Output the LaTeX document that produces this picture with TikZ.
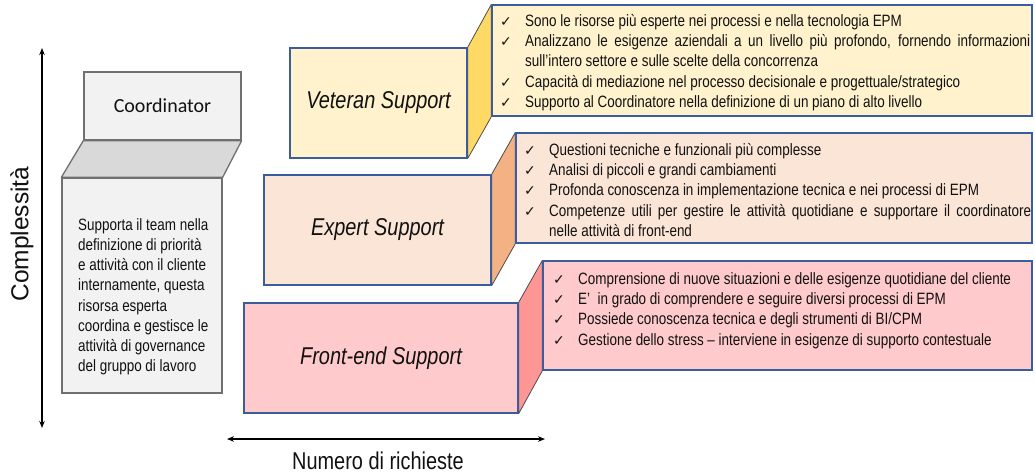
\documentclass[tikz,border=0pt]{standalone}
\usepackage{fontspec}
\setmainfont{Liberation Sans}
\newfontfamily\narrowfont[FakeStretch=0.82]{Liberation Sans}
\newfontfamily\calfont{Carlito}
\newfontfamily\symfont{DejaVu Sans}
\usetikzlibrary{arrows.meta}

\definecolor{vetF}{HTML}{FFF2CC}
\definecolor{vetS}{HTML}{FFD966}
\definecolor{expF}{HTML}{FBE5D6}
\definecolor{expS}{HTML}{F4B183}
\definecolor{feF}{HTML}{FFCACB}
\definecolor{feS}{HTML}{FF9696}
\definecolor{edgeblue}{HTML}{3A5D9E}
\definecolor{coordF}{HTML}{F2F2F2}
\definecolor{coordS}{HTML}{D9D9D9}
\definecolor{coordE}{HTML}{707070}
\definecolor{ink}{HTML}{111111}

% check-mark bullet with hanging indent
\newcommand{\tick}{\makebox[25pt][l]{\symfont\fontsize{14}{14}\selectfont ✓}}
\newcommand{\itm}[1]{\par\hangindent=25pt\hangafter=1\noindent\strut\tick #1\par}
\newcommand{\bodyfont}{\narrowfont\fontsize{16.4}{20.2}\selectfont
  \tolerance=9999\emergencystretch=0pt\hyphenpenalty=10000\exhyphenpenalty=10000}

\tikzset{
  front/.style={draw=edgeblue, line width=1.3pt, inner sep=0pt,
    font=\narrowfont\itshape\fontsize{24.3}{28}\selectfont, text=ink},
  infobox/.style={draw=edgeblue, line width=1.3pt, inner sep=0pt},
  infotext/.style={anchor=north west, inner sep=0pt, align=justify,
    font=\bodyfont, text=ink},
  sideface/.style={draw=black!70, line width=0.8pt, line join=round},
  coordbox/.style={draw=coordE, line width=1.3pt, fill=coordF, inner sep=0pt},
  axis/.style={line width=1.3pt, {Stealth[length=7pt,width=5.5pt]}-{Stealth[length=7pt,width=5.5pt]}},
}

\begin{document}
\begin{tikzpicture}[x=1pt, y=-1pt]
\useasboundingbox (0,0) rectangle (1035,475);

% ---- Coordinator block ----
\node[coordbox, minimum width=157pt, minimum height=68pt,
      font=\calfont\fontsize{20}{24}\selectfont, text=ink] (ctop) at (162.5,106) {Coordinator};
\node[coordbox, minimum width=160pt, minimum height=215pt] (cbody) at (142,285.5) {};
\filldraw[coordbox, fill=coordS, line join=round]
  (ctop.south west) -- (ctop.south east) -- (cbody.north east) -- (cbody.north west) -- cycle;
\node[anchor=north west, inner sep=0pt, align=left, font=\bodyfont, text=ink] (cdesc) at (78,216)
  {\strut Supporta il team nella\\ definizione di priorità\\ e attività con il cliente\\
   internamente, questa\\ risorsa esperta\\ coordina e gestisce le\\
   attività di governance\\ del gruppo di lavoro};

% ---- front faces ----
\node[front, fill=vetF, minimum width=177pt, minimum height=110pt] (vet) at (378.5,103) {Veteran Support};
\node[front, fill=expF, minimum width=227pt, minimum height=110pt] (exp) at (377.5,230) {Expert Support};
\node[front, fill=feF, minimum width=274pt, minimum height=110pt] (fe) at (381,358) {Front-end Support};

% ---- description panels ----
\node[infobox, fill=vetF, minimum width=540pt, minimum height=111pt] (vetbox) at (762,60.5) {};
\node[infobox, fill=expF, minimum width=516pt, minimum height=110pt] (expbox) at (774,188) {};
\node[infobox, fill=feF, minimum width=489pt, minimum height=109pt] (febox) at (787.5,315.5) {};

% ---- side faces joining fronts to panels ----
\filldraw[sideface, fill=vetS] (vet.north east) -- (vetbox.north west) -- (vetbox.south west) -- (vet.south east) -- cycle;
\filldraw[sideface, fill=expS] (exp.north east) -- (expbox.north west) -- (expbox.south west) -- (exp.south east) -- cycle;
\filldraw[sideface, fill=feS] (fe.north east) -- (febox.north west) -- (febox.south west) -- (fe.south east) -- cycle;
\draw[edgeblue, line width=1.3pt] (vet.north east) -- (vet.south east) (vetbox.north west) -- (vetbox.south west);
\draw[edgeblue, line width=1.3pt] (exp.north east) -- (exp.south east) (expbox.north west) -- (expbox.south west);
\draw[edgeblue, line width=1.3pt] (fe.north east) -- (fe.south east) (febox.north west) -- (febox.south west);

% ---- panel texts ----
\node[infotext, text width=530pt] (vettext) at (500,6) {%
  \itm{Sono le risorse più esperte nei processi e nella tecnologia EPM}
  \itm{Analizzano le esigenze aziendali a un livello più profondo, fornendo informazioni\linebreak sull’intero settore e sulle scelte della concorrenza}
  \itm{Capacità di mediazione nel processo decisionale e progettuale/strategico}
  \itm{Supporto al Coordinatore nella definizione di un piano di alto livello}};
\node[infotext, text width=507pt] (exptext) at (524,135) {%
  \itm{Questioni tecniche e funzionali più complesse}
  \itm{Analisi di piccoli e grandi cambiamenti}
  \itm{Profonda conoscenza in implementazione tecnica e nei processi di EPM}
  \itm{Competenze utili per gestire le attività quotidiane e supportare il coordinatore\linebreak nelle attività di front-end}};
\node[infotext, text width=477pt] (fetext) at (553,264) {%
  \itm{Comprensione di nuove situazioni e delle esigenze quotidiane del cliente}
  \itm{E’\ \ in grado di comprendere e seguire diversi processi di EPM}
  \itm{Possiede conoscenza tecnica e degli strumenti di BI/CPM}
  \itm{Gestione dello stress – interviene in esigenze di supporto contestuale}};

% ---- axes ----
\coordinate (ytop) at (42,48);
\coordinate (ybot) at (42,428);
\coordinate (xleft) at (227,439);
\coordinate (xright) at (545,439);
\draw[axis] (ybot) -- (ytop);
\draw[axis] (xleft) -- (xright);
\node[rotate=90, inner sep=0pt, font=\fontsize{24.5}{28}\selectfont, text=ink] (ylab) at (22,234) {Complessità};
\node[inner sep=0pt, font=\narrowfont\fontsize{24.3}{28}\selectfont, text=ink] (xlab) at (378,461) {Numero di richieste};
\end{tikzpicture}
\end{document}
